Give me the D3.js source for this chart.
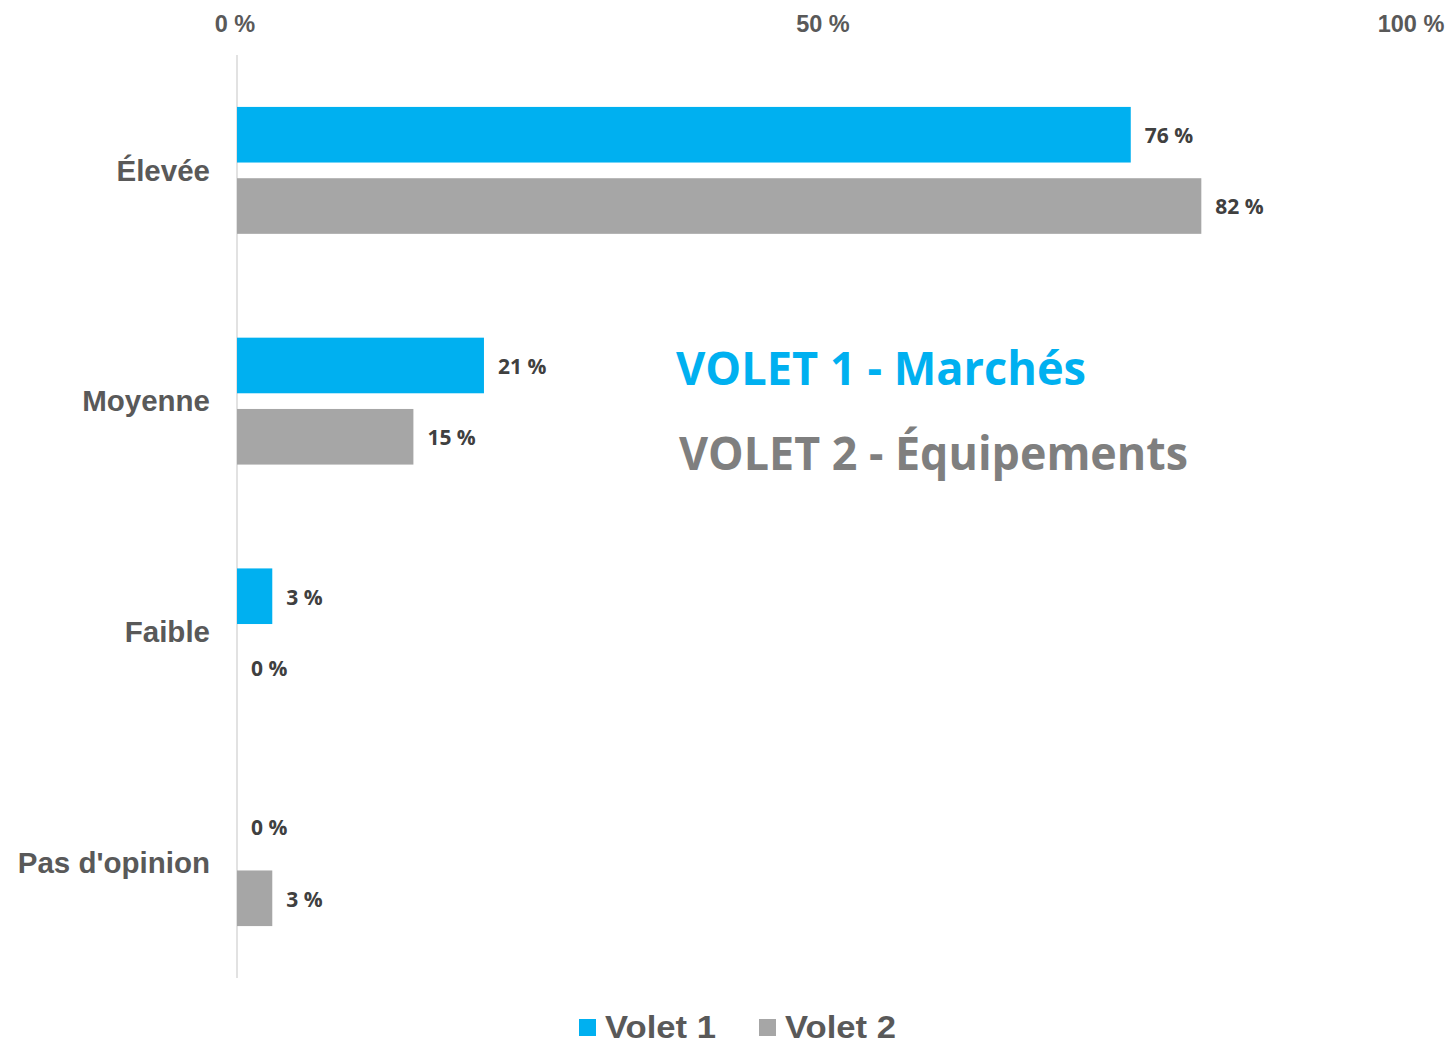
<!DOCTYPE html>
<html>
<head>
<meta charset="utf-8">
<script src="https://cdn.jsdelivr.net/npm/d3@7"></script>
<style>
  body { margin: 0; background: #fff; }
</style>
</head>
<body>
<svg id="chart" width="1448" height="1045"></svg>
<script>
'use strict';

// categories and series
var categories = ['Élevée', 'Moyenne', 'Faible', "Pas d'opinion"];
var seriesNames = ['Volet 1', 'Volet 2'];
var volet1 = [76, 21, 3, 0];
var volet2 = [82, 15, 0, 3];
var tickValues = [0, 50, 100];
var colors = ['#00B0F0', '#A6A6A6'];

var svg = d3.select('#chart');

var x = d3.scaleLinear().domain([0, 100]).range([237, 1413]);
var y = d3.scaleBand().domain(categories).range([55, 978]).paddingInner(0.45).paddingOuter(0.225);
var ySub = d3.scaleBand().domain(seriesNames).range([0, y.bandwidth()]).paddingInner(0.22);

// top axis labels
svg.selectAll('text.tick').data(tickValues)
  .enter().append('text')
  .attr('x', function(d) { return x(d) - 2; })
  .attr('y', 32)
  .attr('text-anchor', 'middle')
  .attr('font-family', 'Liberation Sans, Arial, sans-serif')
  .attr('font-weight', 'bold')
  .attr('font-size', 23.5)
  .attr('fill', '#595959')
  .text(function(d) { return d + ' %'; });

// vertical axis line
svg.append('line')
  .attr('x1', x(0)).attr('x2', x(0))
  .attr('y1', 55).attr('y2', 978)
  .attr('stroke', '#d9d9d9').attr('stroke-width', 1.5);

// category labels
svg.selectAll('text.cat').data(categories)
  .enter().append('text')
  .attr('x', 210)
  .attr('y', function(d) { return y(d) + y.bandwidth() / 2; })
  .attr('dy', '0.35em')
  .attr('text-anchor', 'end')
  .attr('font-family', 'Liberation Sans, Arial, sans-serif')
  .attr('font-weight', 'bold')
  .attr('font-size', 29.5)
  .attr('fill', '#595959')
  .text(function(d) { return d; });

// bars + value labels
var series = [volet1, volet2];
series.forEach(function(vals, i) {
  var rows = categories.map(function(c, j) { return {cat: c, v: vals[j]}; });
  svg.selectAll('rect.s' + i).data(rows)
    .enter().append('rect')
    .attr('x', x(0))
    .attr('y', function(d) { return y(d.cat) + ySub(seriesNames[i]); })
    .attr('width', function(d) { return x(d.v) - x(0); })
    .attr('height', ySub.bandwidth())
    .attr('fill', colors[i]);

  svg.selectAll('text.v' + i).data(rows)
    .enter().append('text')
    .attr('x', function(d) { return x(d.v) + 14; })
    .attr('y', function(d) { return y(d.cat) + ySub(seriesNames[i]) + ySub.bandwidth() / 2 + 1; })
    .attr('dy', '0.35em')
    .attr('font-family', 'Open Sans, sans-serif')
    .attr('font-weight', 'bold')
    .attr('font-size', 21)
    .attr('fill', '#404040')
    .text(function(d) { return d.v + ' %'; });
});

// annotation titles
svg.append('text')
  .attr('x', 676).attr('y', 385)
  .attr('font-family', 'Open Sans, sans-serif')
  .attr('font-weight', 'bold')
  .attr('font-size', 46)
  .attr('textLength', 410).attr('lengthAdjust', 'spacingAndGlyphs')
  .attr('fill', '#00B0F0')
  .text('VOLET 1 - Marchés');

svg.append('text')
  .attr('x', 679).attr('y', 470)
  .attr('font-family', 'Open Sans, sans-serif')
  .attr('font-weight', 'bold')
  .attr('font-size', 46)
  .attr('textLength', 509).attr('lengthAdjust', 'spacingAndGlyphs')
  .attr('fill', '#7F7F7F')
  .text('VOLET 2 - Équipements');

// legend
var legendX = [579, 759];
var legend = svg.selectAll('g.legend').data(seriesNames)
  .enter().append('g')
  .attr('transform', function(d, i) { return 'translate(' + legendX[i] + ',1019)'; });
legend.append('rect')
  .attr('width', 17).attr('height', 17)
  .attr('fill', function(d, i) { return colors[i]; });
legend.append('text')
  .attr('x', 26).attr('y', 19)
  .attr('font-family', 'Liberation Sans, Arial, sans-serif')
  .attr('font-weight', 'bold')
  .attr('font-size', 32)
  .attr('textLength', 111).attr('lengthAdjust', 'spacingAndGlyphs')
  .attr('fill', '#595959')
  .text(function(d) { return d; });
</script>
</body>
</html>
